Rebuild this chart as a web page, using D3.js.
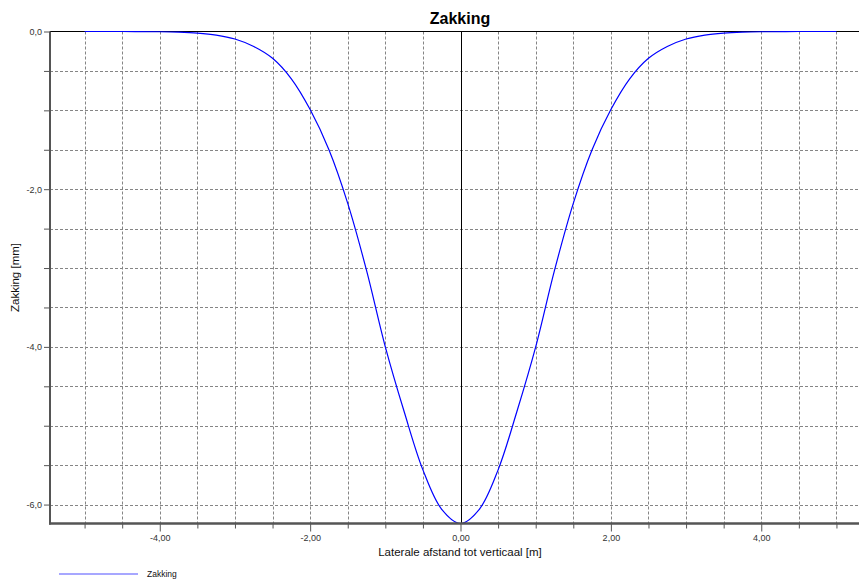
<!DOCTYPE html>
<html>
<head>
<meta charset="utf-8">
<script src="https://cdn.jsdelivr.net/npm/d3@7"></script>
<style>
  html, body { margin: 0; padding: 0; background: #fff; }
  svg { display: block; font-family: "Liberation Sans", Arial, sans-serif; }
</style>
</head>
<body>
<svg id="chart" width="859" height="581"></svg>
<script>
// Lateral distance to the vertical [m] and settlement [mm]
const afstand = [-5.0, -4.5, -4.0, -3.75, -3.5, -3.25, -3.0, -2.75, -2.5, -2.25, -2.0, -1.75, -1.5, -1.25, -1.0, -0.75, -0.5, -0.25, 0.0,
                  0.25, 0.5, 0.75, 1.0, 1.25, 1.5, 1.75, 2.0, 2.25, 2.5, 2.75, 3.0, 3.25, 3.5, 3.75, 4.0, 4.5, 5.0];
const zakking = [0.0, 0.0, -0.003, -0.008, -0.02, -0.045, -0.095, -0.19, -0.34, -0.6, -0.99, -1.5, -2.18, -3.03, -4.0, -4.82, -5.56, -6.06, -6.24,
                 -6.06, -5.56, -4.82, -4.0, -3.03, -2.18, -1.5, -0.99, -0.6, -0.34, -0.19, -0.095, -0.045, -0.02, -0.008, -0.003, 0.0, 0.0];

const xGridTicks = d3.range(-5.0, 5.01, 0.5);
const xLabelTicks = [-4, -2, 0, 2, 4];
const yGridTicks = d3.range(0, -6.01, -0.5);
const yLabelTicks = [0, -2, -4, -6];

const titel = "Zakking";
const xTitel = "Laterale afstand tot verticaal [m]";
const yTitel = "Zakking [mm]";
const reeksNaam = "Zakking";

const nl = d3.formatLocale({ decimal: ",", thousands: ".", grouping: [3], currency: ["€", ""], minus: "-" });
const fmtX = nl.format(".2f");
const fmtY = nl.format(".1f");
const isLabel = (list, d) => list.some(v => Math.abs(v - d) < 1e-9);

const svg = d3.select("#chart");
const plotL = 50, plotR = 859, plotT = 31.5, plotB = 523.5;

const x = d3.scaleLinear().domain([-5.46, 5.3]).range([plotL, plotR]);
const y = d3.scaleLinear().domain([-6.24, 0]).range([plotB, plotT]);

// dashed grid
const grid = svg.append("g");
grid.selectAll("line.vg").data(xGridTicks).join("line")
  .attr("x1", d => Math.round(x(d)) + 0.5).attr("x2", d => Math.round(x(d)) + 0.5)
  .attr("y1", plotT).attr("y2", plotB)
  .attr("stroke", "#858585").attr("stroke-width", 1).attr("stroke-dasharray", "3,2");
grid.selectAll("line.hg").data(yGridTicks.filter(d => d !== 0)).join("line")
  .attr("x1", plotL).attr("x2", plotR)
  .attr("y1", d => Math.round(y(d)) + 0.5).attr("y2", d => Math.round(y(d)) + 0.5)
  .attr("stroke", "#858585").attr("stroke-width", 1).attr("stroke-dasharray", "3,2");

// top border and zero line
svg.append("line").attr("x1", plotL).attr("x2", plotR).attr("y1", plotT).attr("y2", plotT)
  .attr("stroke", "#000").attr("stroke-width", 1);
svg.append("line").attr("x1", Math.round(x(0)) + 0.5).attr("x2", Math.round(x(0)) + 0.5)
  .attr("y1", plotT).attr("y2", plotB).attr("stroke", "#000").attr("stroke-width", 1);

// settlement curve
svg.append("clipPath").attr("id", "clip").append("rect")
  .attr("x", plotL).attr("y", plotT - 1).attr("width", plotR - plotL).attr("height", plotB - plotT + 1);
const line = d3.line().x((d, i) => x(afstand[i])).y(d => y(d)).curve(d3.curveCatmullRom.alpha(0.5));
svg.append("path").datum(zakking).attr("clip-path", "url(#clip)")
  .attr("d", line).attr("fill", "none").attr("stroke", "#0000ff").attr("stroke-width", 1.2);

// y axis
const yAxis = svg.append("g").attr("transform", `translate(${plotL},0)`)
  .call(d3.axisLeft(y).tickValues(yGridTicks).tickSize(6).tickFormat(d => isLabel(yLabelTicks, d) ? fmtY(d) : ""));
yAxis.select(".domain").remove();
yAxis.selectAll(".tick line").attr("stroke", "#555");
yAxis.selectAll(".tick text").attr("font-size", 9).attr("fill", "#333").attr("x", -8);
svg.append("line").attr("x1", plotL).attr("x2", plotL).attr("y1", plotT).attr("y2", plotB + 1)
  .attr("stroke", "#555").attr("stroke-width", 2);

// x axis
const xAxis = svg.append("g").attr("transform", `translate(0,${plotB})`)
  .call(d3.axisBottom(x).tickValues(xGridTicks).tickSize(5).tickFormat(d => isLabel(xLabelTicks, d) ? fmtX(d) : ""));
xAxis.select(".domain").remove();
xAxis.selectAll(".tick line").attr("stroke", "#555")
  .attr("y2", d => isLabel(xLabelTicks, d) ? 8 : 5);
xAxis.selectAll(".tick text").attr("font-size", 9).attr("fill", "#333").attr("y", 11);
svg.append("line").attr("x1", plotL - 1).attr("x2", plotR).attr("y1", plotB).attr("y2", plotB)
  .attr("stroke", "#555").attr("stroke-width", 2.5);

// titles
svg.append("text").attr("x", 460).attr("y", 24).attr("text-anchor", "middle")
  .attr("font-size", 16).attr("font-weight", "bold").attr("fill", "#000").text(titel);
svg.append("text").attr("x", 460).attr("y", 556).attr("text-anchor", "middle")
  .attr("font-size", 11.5).attr("fill", "#111").text(xTitel);
svg.append("text").attr("transform", `translate(19,${(plotT + plotB) / 2}) rotate(-90)`)
  .attr("text-anchor", "middle").attr("font-size", 11.5).attr("fill", "#111").text(yTitel);

// legend
svg.append("line").attr("x1", 59).attr("x2", 138).attr("y1", 574).attr("y2", 574)
  .attr("stroke", "#5050ff").attr("stroke-width", 1.2);
svg.append("text").attr("x", 147).attr("y", 577).attr("font-size", 8.5).attr("fill", "#111").text(reeksNaam);
</script>
</body>
</html>
